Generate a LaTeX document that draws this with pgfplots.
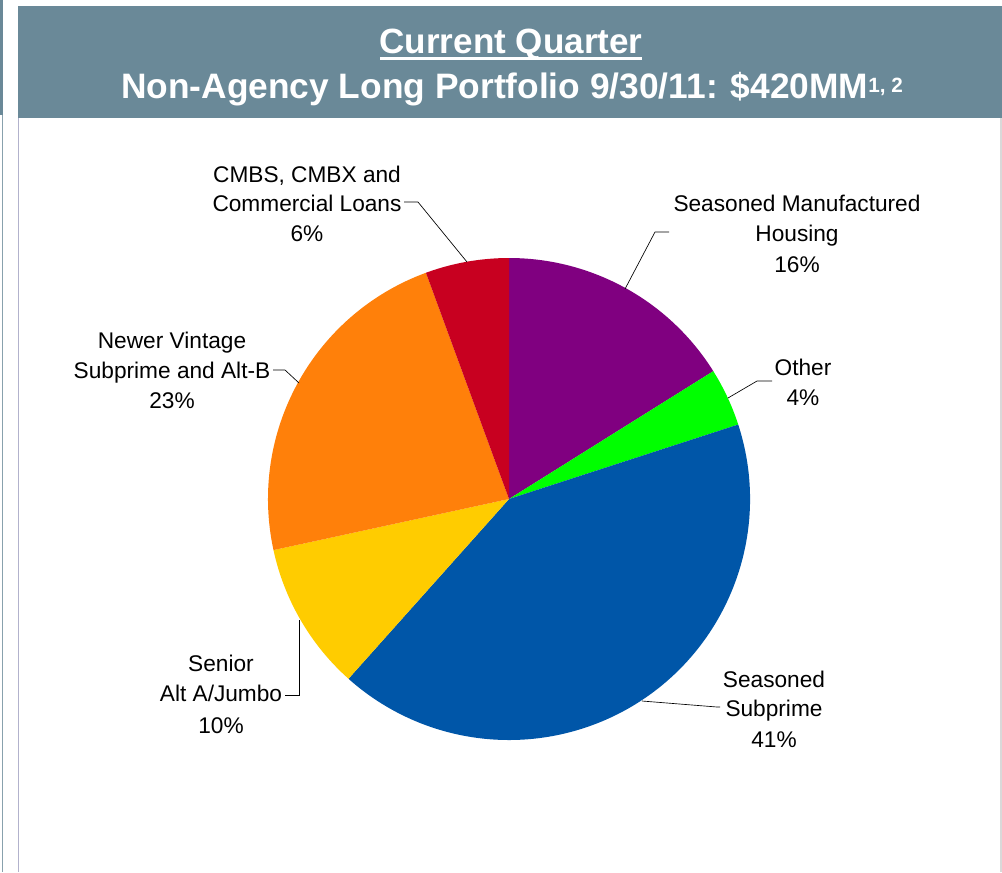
\documentclass[border=0pt]{standalone}
\usepackage{pgfplots}
\pgfplotsset{compat=1.18}
\usepackage{pgfplotstable}
\usepackage{fontspec}
\setmainfont{Liberation Sans}

\definecolor{band}{HTML}{6A8998}
\definecolor{pie0}{HTML}{800080}
\definecolor{pie1}{HTML}{00FF00}
\definecolor{pie2}{HTML}{0056A8}
\definecolor{pie3}{HTML}{FFCC00}
\definecolor{pie4}{HTML}{FF800A}
\definecolor{pie5}{HTML}{C80020}

% slice shares in percent, clockwise from 12 o'clock
\pgfplotstableread{
slice value
SeasonedMH 16.1
Other 3.9
SeasonedSubprime 41.6
SeniorAltA 10.0
NewerVintage 22.8
CMBS 5.6
}\piedata

\newcommand\lblfont{\fontsize{17}{20}\selectfont}
\newcommand\lbl[3]{\node[font=\lblfont, anchor=base] at (axis cs:#1,#2) {#3};}

\begin{document}%
\begin{tikzpicture}
% cumulative start/end angles of the slices
\def\cum{90}%
\pgfplotsforeachungrouped \i in {0,...,5}{%
  \pgfplotstablegetelem{\i}{value}\of\piedata%
  \expandafter\let\csname pies\i\endcsname\cum%
  \pgfmathsetmacro\cum{\cum-3.6*\pgfplotsretval}%
  \expandafter\let\csname piee\i\endcsname\cum%
}%
\def\R{180.75pt}% 241 px
\begin{axis}[
    x=0.75pt, y=0.75pt, y dir=reverse,
    xmin=0, xmax=1002, ymin=0, ymax=872,
    hide axis, clip=false,
]
\coordinate (bl) at (axis cs:0,872);
\coordinate (tr) at (axis cs:1002,0);
\fill[white] (axis cs:0,0) rectangle (axis cs:1002,872);
% header band and frame
\fill[band] (axis cs:18,6) rectangle (axis cs:1002,118);
\fill[band] (axis cs:0,0) rectangle (axis cs:3,115);
\draw[color=band!80, line width=1.2pt] (axis cs:2.5,115) -- (axis cs:2.5,872);
\draw[color=blue!20!gray!50, line width=0.8pt] (axis cs:18.5,118) -- (axis cs:18.5,872);
\draw[color=gray!30, line width=0.8pt] (axis cs:1001,118) -- (axis cs:1001,872);

\node[font=\fontsize{26.3}{30}\selectfont\bfseries, text=white, anchor=base] at (axis cs:511,53) {Current Quarter};
\draw[white, line width=2.2pt] (axis cs:380,58.5) -- (axis cs:642,58.5);
\node[font=\fontsize{26.5}{30}\selectfont\bfseries, text=white, anchor=base] at (axis cs:512,98)
  {Non-Agency Long Portfolio 9/30/11: \$420MM\raisebox{4.5pt}{\fontsize{15.5}{16}\selectfont 1, 2}};

% pie slices
\pgfplotsinvokeforeach{0,...,5}{%
  \fill[pie#1] (axis cs:509,499) -- ++(\csname pies#1\endcsname:\R)
    arc[start angle=\csname pies#1\endcsname, end angle=\csname piee#1\endcsname, radius=\R] -- cycle;
}

% leader lines
\draw[black, line width=0.5pt] (axis cs:404,202) -- (axis cs:418,202) -- (axis cs:467,262);
\draw[black, line width=0.5pt] (axis cs:669,232) -- (axis cs:655,232) -- (axis cs:625,289);
\draw[black, line width=0.5pt] (axis cs:772,381) -- (axis cs:757,381) -- (axis cs:728,398);
\draw[black, line width=0.5pt] (axis cs:273,370) -- (axis cs:285,370) -- (axis cs:299,383);
\draw[black, line width=0.5pt] (axis cs:285,695) -- (axis cs:299,695) -- (axis cs:299,620);
\draw[black, line width=0.5pt] (axis cs:642,701) -- (axis cs:717,707) -- (axis cs:720,707);

% labels
\lbl{307}{182}{CMBS, CMBX and}
\lbl{307}{211}{Commercial Loans}
\lbl{307}{241}{6\%}
\lbl{797}{211}{Seasoned Manufactured}
\lbl{797}{241}{Housing}
\lbl{797}{272}{16\%}
\lbl{803}{375}{Other}
\lbl{803}{405}{4\%}
\lbl{172}{348}{Newer Vintage}
\lbl{172}{378}{Subprime and Alt-B}
\lbl{172}{408}{23\%}
\lbl{221}{671}{Senior}
\lbl{221}{701}{Alt A/Jumbo}
\lbl{221}{733}{10\%}
\lbl{774}{687}{Seasoned}
\lbl{774}{716}{Subprime}
\lbl{774}{747}{41\%}
\end{axis}
\pgfresetboundingbox
\path (bl) rectangle (tr);
\end{tikzpicture}%
\end{document}
